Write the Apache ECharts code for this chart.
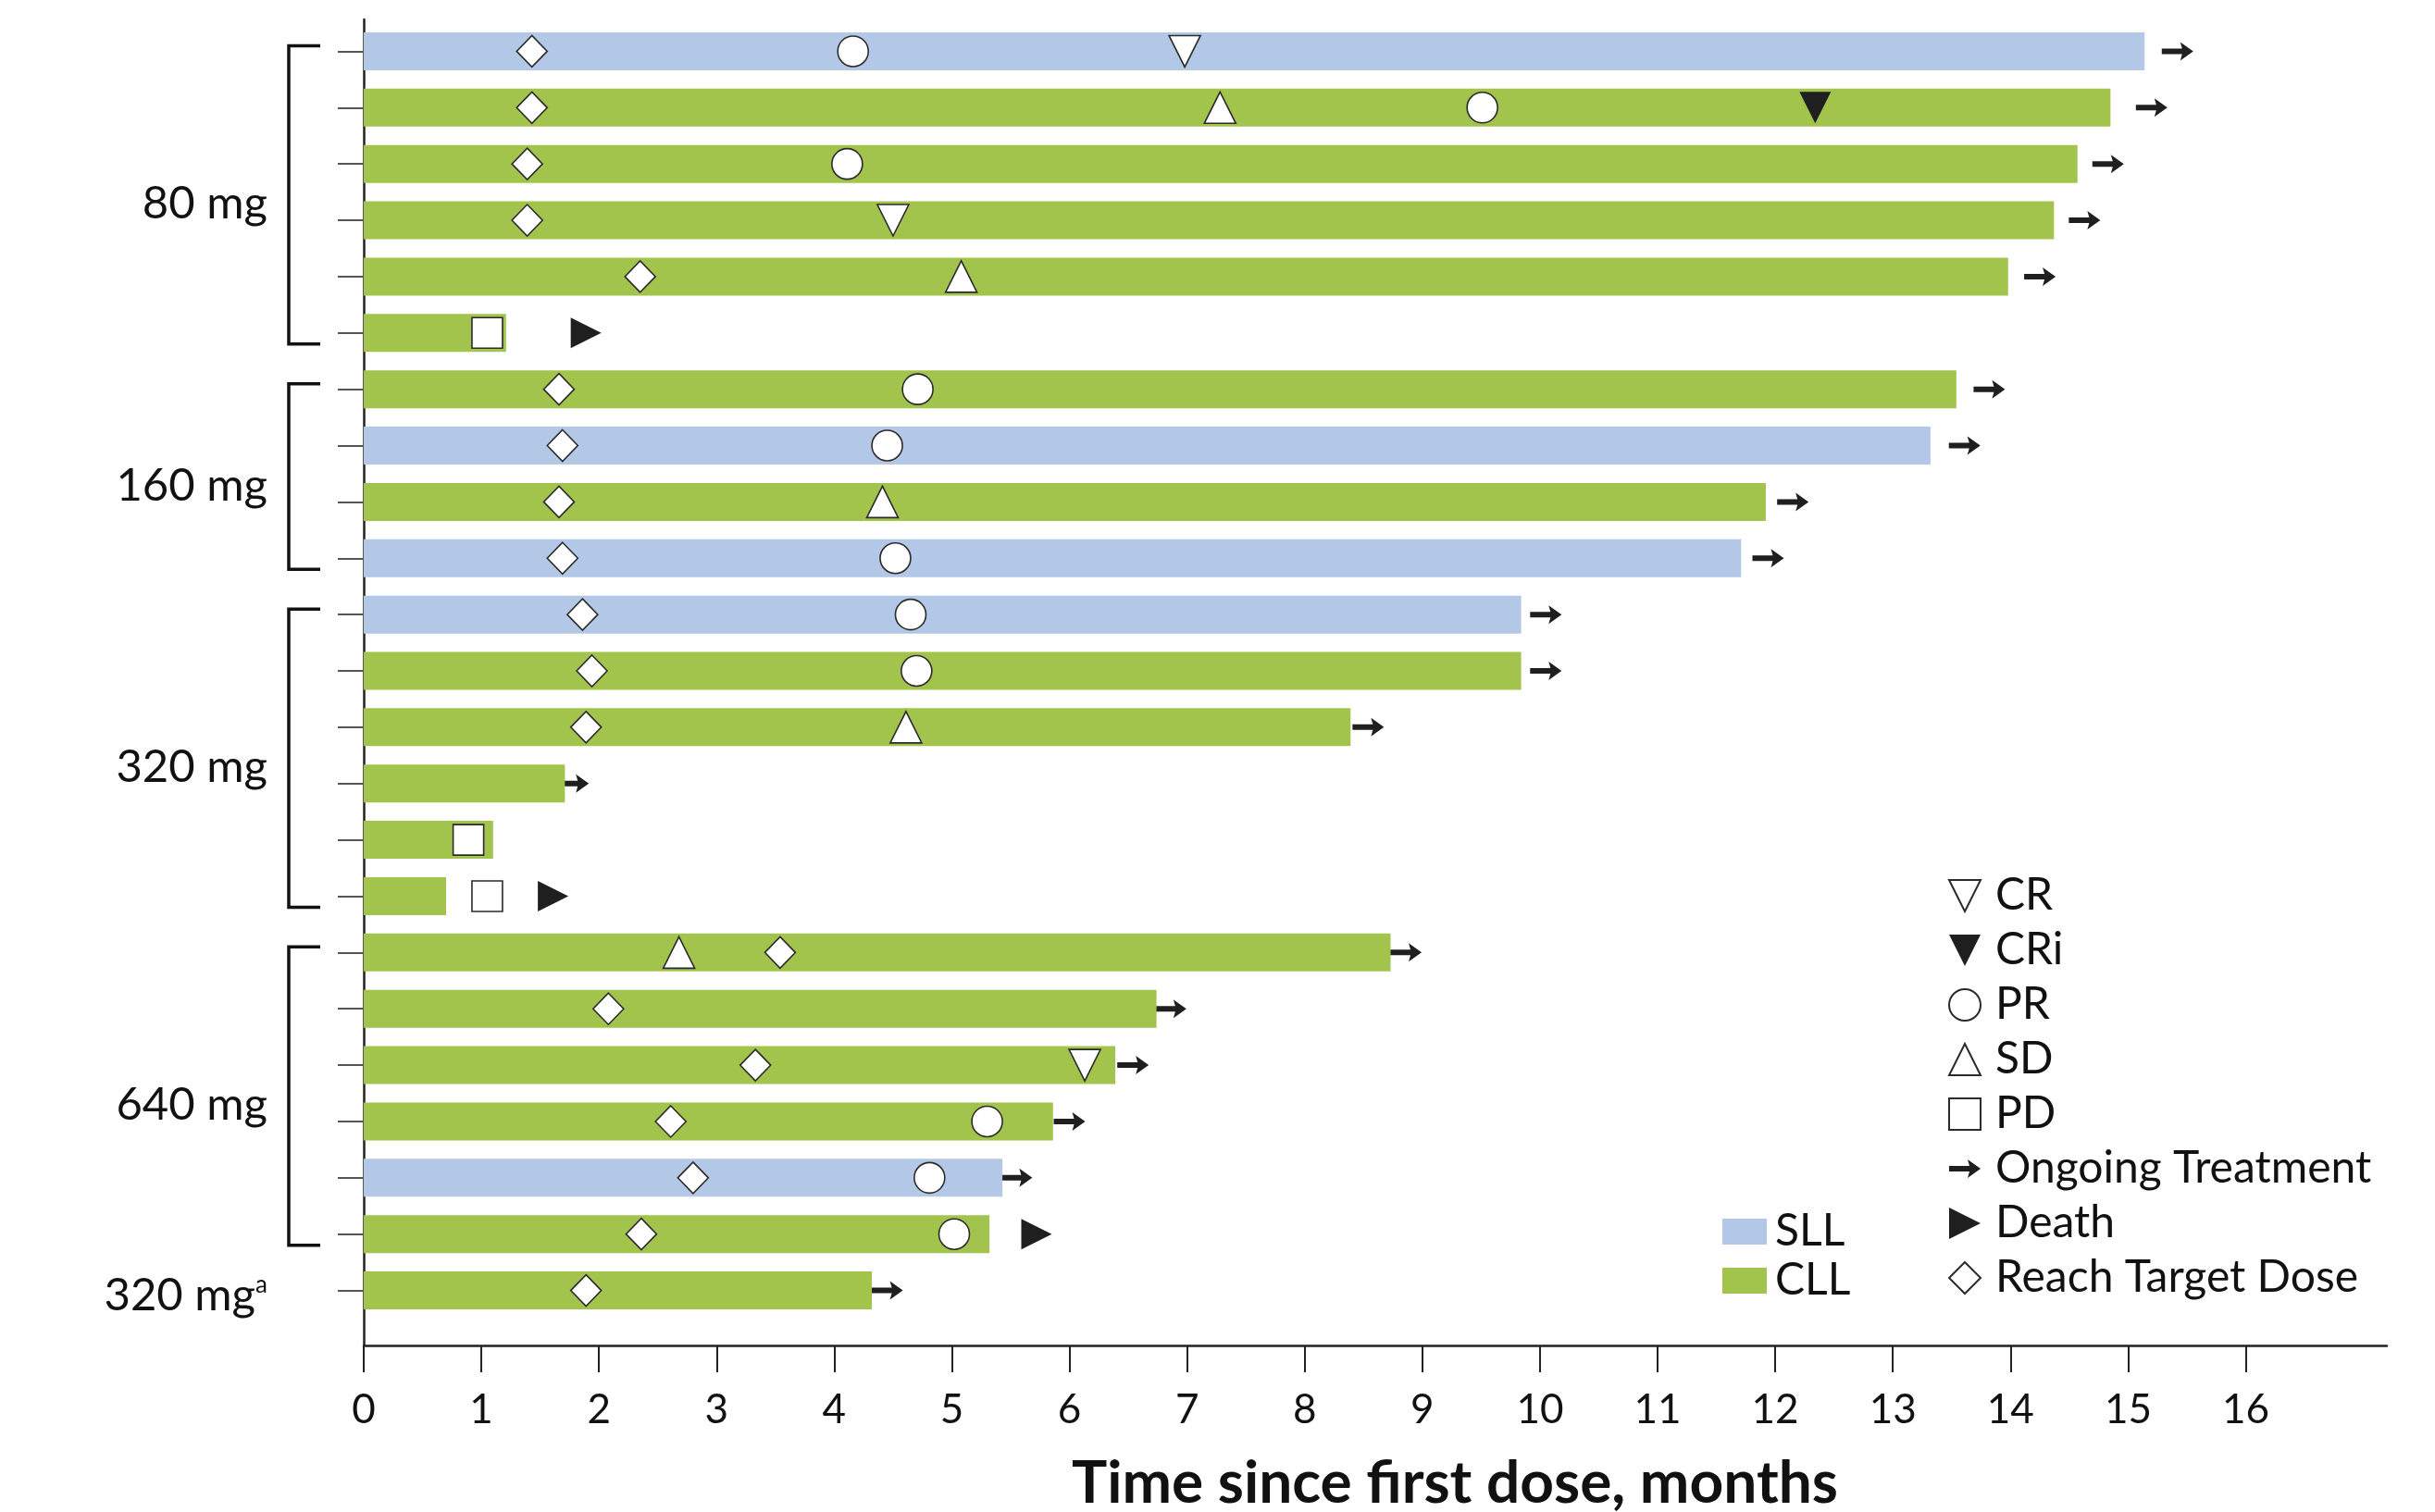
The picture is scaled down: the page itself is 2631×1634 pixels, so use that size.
<!DOCTYPE html>
<html>
<head>
<meta charset="utf-8">
<title>Time on treatment by dose</title>
<script src="https://cdn.jsdelivr.net/npm/echarts@6/dist/echarts.min.js"></script>
<style>
  html, body { margin: 0; padding: 0; background: #ffffff; }
  #chart { width: 2631px; height: 1634px; }
</style>
</head>
<body>
<div id="chart"></div>
<script>
// ---- Data: one entry per patient row, top to bottom ----
const rowIds = ['P1','P2','P3','P4','P5','P6','P7','P8','P9','P10','P11','P12',
                'P13','P14','P15','P16','P17','P18','P19','P20','P21','P22','P23'];
const diseaseType = ['SLL','CLL','CLL','CLL','CLL','CLL','CLL','SLL','CLL','SLL','SLL','CLL',
                     'CLL','CLL','CLL','CLL','CLL','CLL','CLL','CLL','SLL','CLL','CLL'];
// time on treatment, months
const treatmentMonths = [15.14, 14.85, 14.57, 14.37, 13.98, 1.21, 13.54, 13.32, 11.92, 11.71, 9.84, 9.84,
                         8.39, 1.71, 1.10, 0.70, 8.73, 6.74, 6.39, 5.86, 5.43, 5.32, 4.32];

// event times (months) per row; null = no event
const reachTargetDose = [1.43, 1.43, 1.39, 1.39, 2.35, null, 1.66, 1.69, 1.66, 1.69, 1.86, 1.94,
                         1.89, null, null, null, 3.54, 2.08, 3.33, 2.61, 2.80, 2.36, 1.89];
const crTimes  = [6.98, null, null, 4.50, null, null, null, null, null, null, null, null,
                  null, null, null, null, null, null, 6.13, null, null, null, null];
const criTimes = [null, 12.34, null, null, null, null, null, null, null, null, null, null,
                  null, null, null, null, null, null, null, null, null, null, null];
const prTimes  = [4.16, 9.51, 4.11, null, null, null, 4.71, 4.45, null, 4.52, 4.65, 4.70,
                  null, null, null, null, null, null, null, 5.30, 4.81, 5.02, null];
const sdTimes  = [null, 7.28, null, null, 5.08, null, null, null, 4.41, null, null, null,
                  4.61, null, null, null, 2.68, null, null, null, null, null, null];
const pdTimes  = [null, null, null, null, null, 1.05, null, null, null, null, null, null,
                  null, null, 0.89, 1.05, null, null, null, null, null, null, null];
const deathTimes = [null, null, null, null, null, 1.89, null, null, null, null, null, null,
                    null, null, null, 1.61, null, null, null, null, null, 5.72, null];
const ongoingAt = [15.42, 15.20, 14.83, 14.63, 14.25, null, 13.82, 13.61, 12.15, 11.94, 10.05, 10.05,
                   8.54, 1.78, null, null, 8.86, 6.86, 6.54, 6.00, 5.55, null, 4.45];

// dose cohorts (row ranges, inclusive)
const doseLabels = ['80 mg', '160 mg', '320 mg', '640 mg', '320 mg{sup|a}'];
const doseFirstRow = [0, 6, 10, 16, 22];
const doseLastRow  = [5, 9, 15, 21, 22];

// x-axis ticks
const monthTicks = [0, 1, 2, 3, 4, 5, 6, 7, 8, 9, 10, 11, 12, 13, 14, 15, 16];

// ---- Styling ----
const FONT = 'Lato, "Noto Sans", sans-serif';
const SLL_COLOR = '#B3C7E6';
const CLL_COLOR = '#A3C44C';
const INK = '#111111';
const EDGE = '#2b2b2b';
const X_MAX = 17.2;

// marker shapes
const DOWN_TRI = 'path://M0,0L34,0L17,34Z';
const UP_TRI = 'path://M17,0L34,34L0,34Z';
const RIGHT_TRI = 'path://M0,0L34,17L0,34Z';
const ARROW = 'path://M0,0M34,34M0,14L22,14L20,7L34,17L20,27L22,20L0,20Z';

function toPoints(values) {
  const out = [];
  values.forEach((v, i) => { if (v !== null && v !== undefined) out.push([v, i]); });
  return out;
}
function barData(type) {
  return treatmentMonths.map((v, i) => (diseaseType[i] === type ? v : '-'));
}

const openMarker = { color: '#ffffff', borderColor: EDGE, borderWidth: 1.6, opacity: 1 };
const solidMarker = { color: '#1f1f1f', borderWidth: 0, opacity: 1 };

function markerSeries(name, values, symbol, size, style, z) {
  return {
    name, type: 'scatter', xAxisIndex: 0, yAxisIndex: 0,
    data: toPoints(values), symbol, symbolSize: size,
    itemStyle: style, z: z, silent: true, animation: false
  };
}

const chart = echarts.init(document.getElementById('chart'), null, { renderer: 'canvas' });

const option = {
  backgroundColor: '#ffffff',
  animation: false,
  grid: [
    // data area: 23 patient rows
    { left: 393, right: 52, top: 25, bottom: 209, outerBoundsMode: 'none', containLabel: false },
    // axis frame
    { left: 393, right: 52, top: 21, bottom: 180, outerBoundsMode: 'none', containLabel: false }
  ],
  xAxis: [
    { gridIndex: 0, type: 'value', min: 0, max: X_MAX, show: false },
    {
      gridIndex: 1, type: 'value', min: 0, max: X_MAX,
      axisLine: { show: true, onZero: false, lineStyle: { color: '#222', width: 2.5 } },
      axisTick: { show: true, length: 29, customValues: monthTicks, lineStyle: { color: '#222', width: 2 } },
      axisLabel: { show: true, customValues: monthTicks, margin: 48, fontSize: 44, fontFamily: FONT, color: INK },
      splitLine: { show: false },
      name: 'Time since first dose, months',
      nameLocation: 'middle',
      nameGap: 117,
      nameTextStyle: { fontSize: 64, fontWeight: 'bold', fontFamily: FONT, color: INK, padding: [0, 0, 0, 172] }
    }
  ],
  yAxis: [
    {
      gridIndex: 0, type: 'category', data: rowIds, inverse: true,
      axisLine: { show: false },
      axisTick: { show: true, alignWithLabel: true, length: 28, lineStyle: { color: '#555', width: 2 } },
      axisLabel: { show: false },
      splitLine: { show: false }
    },
    {
      gridIndex: 1, type: 'value', min: 0, max: 1,
      axisLine: { show: true, lineStyle: { color: '#222', width: 2.5 } },
      axisTick: { show: false }, axisLabel: { show: false }, splitLine: { show: false }
    }
  ],
  legend: [
    {
      data: ['CR', 'CRi', 'PR', 'SD', 'PD', 'Ongoing Treatment', 'Death', 'Reach Target Dose'],
      orient: 'vertical', left: 2100, top: 939,
      itemWidth: 34, itemHeight: 34, itemGap: 11,
      selectedMode: false,
      textStyle: { fontSize: 48, fontFamily: FONT, color: INK, padding: [0, 0, 0, 11] }
    },
    {
      data: ['SLL', 'CLL'],
      orient: 'vertical', left: 1856, top: 1302,
      itemWidth: 48, itemHeight: 28, itemGap: 5, icon: 'rect',
      selectedMode: false,
      textStyle: { fontSize: 48, fontFamily: FONT, color: INK, padding: [0, 0, 0, 4] }
    }
  ],
  series: [
    {
      name: 'SLL', type: 'bar', xAxisIndex: 0, yAxisIndex: 0,
      data: barData('SLL'), barWidth: 41, barGap: '-100%',
      itemStyle: { color: SLL_COLOR }, z: 2, silent: true
    },
    {
      name: 'CLL', type: 'bar', xAxisIndex: 0, yAxisIndex: 0,
      data: barData('CLL'), barWidth: 41, barGap: '-100%',
      itemStyle: { color: CLL_COLOR }, z: 2, silent: true
    },
    markerSeries('CR', crTimes, DOWN_TRI, [34, 34], openMarker, 4),
    markerSeries('CRi', criTimes, DOWN_TRI, [34, 34], solidMarker, 4),
    markerSeries('PR', prTimes, 'circle', [33, 33], openMarker, 4),
    markerSeries('SD', sdTimes, UP_TRI, [34, 34], openMarker, 4),
    markerSeries('PD', pdTimes, 'rect', [33, 33], openMarker, 4),
    markerSeries('Ongoing Treatment', ongoingAt, ARROW, [34, 34], solidMarker, 1),
    markerSeries('Death', deathTimes, RIGHT_TRI, [33, 33], solidMarker, 4),
    markerSeries('Reach Target Dose', reachTargetDose, 'diamond', [33, 34], openMarker, 4),
    {
      // dose cohort brackets and labels at the left of the rows
      name: 'doseGroups', type: 'custom', xAxisIndex: 0, yAxisIndex: 0,
      clip: false, silent: true, z: 5,
      data: doseFirstRow.map((f, i) => [0, f, doseLastRow[i], i]),
      encode: { x: 0, y: 1 },
      renderItem: function (params, api) {
        const first = api.value(1);
        const last = api.value(2);
        const gi = api.value(3);
        const top = api.coord([0, first]);
        const bottom = api.coord([0, last]);
        const axisX = top[0];
        const children = [];
        let labelY;
        if (last > first) {
          const y1 = top[1] - 6;
          const y2 = bottom[1] + 12;
          children.push({
            type: 'polyline',
            shape: { points: [[axisX - 47, y1], [axisX - 81, y1], [axisX - 81, y2], [axisX - 47, y2]] },
            style: { stroke: '#111', lineWidth: 3.5, fill: null }
          });
          labelY = (y1 + y2) / 2 + 10;
        } else {
          labelY = top[1] + 6;
        }
        children.push({
          type: 'text',
          style: {
            text: doseLabels[gi], x: axisX - 104, y: labelY,
            align: 'right', verticalAlign: 'middle',
            fontSize: 49, fontFamily: FONT, fill: INK,
            rich: { sup: { fontSize: 26, fontFamily: FONT, fill: INK, verticalAlign: 'top', lineHeight: 49 } }
          }
        });
        return { type: 'group', children };
      }
    }
  ]
};

chart.setOption(option);
</script>
</body>
</html>
